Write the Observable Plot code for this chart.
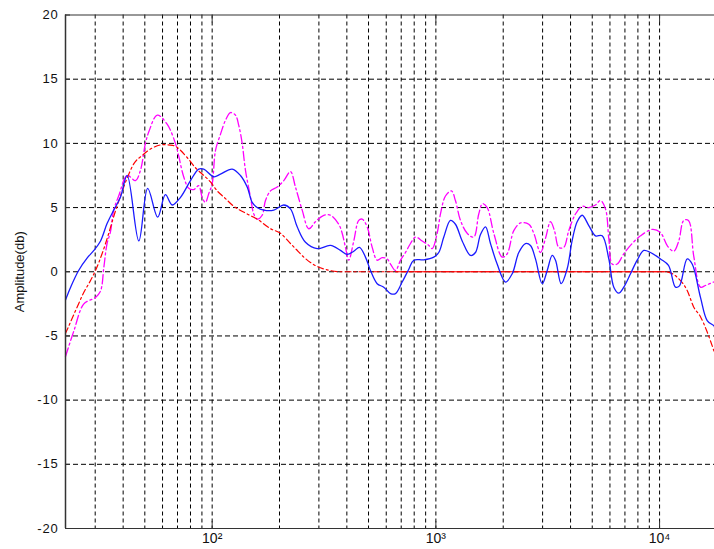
<!DOCTYPE html>
<html>
<head>
<meta charset="utf-8">
<script src="https://cdn.jsdelivr.net/npm/d3@7"></script>
<script src="https://cdn.jsdelivr.net/npm/@observablehq/plot@0.6"></script>
<style>
  html, body { margin: 0; padding: 0; background: #fff; }
</style>
</head>
<body>
<div id="chart"></div>
<script>
// ---- axes ----
const xDomain = [22.1, 17600];
const yDomain = [-20, 20];
const yTicks = [-20, -15, -10, -5, 0, 5, 10, 15, 20];
const gridY = [-15, -10, -5, 0, 5, 10, 15];
const gridX = [30, 40, 50, 60, 70, 80, 90, 100, 200, 300, 400, 500, 600, 700, 800, 900,
               1000, 2000, 3000, 4000, 5000, 6000, 7000, 8000, 9000, 10000];
const xMajor = [100, 1000, 10000];
const xTickLabels = ["10²", "10³", "10⁴"];
const yLabel = "Amplitude(db)";

// ---- blue (solid) ----
const blueFreq = [22.1, 23.3, 25.3, 27.7, 29.6, 31.7, 33.9, 36.3, 38.9, 41.7, 47.0, 51.5, 57.1, 61.8, 66.3, 72.2,
  80.0, 87.1, 91.7, 101.7, 108.9, 122.9, 133.8, 143.4, 151, 158.9, 170.1, 188.6, 209, 223.9, 239.9, 261.3,
  294.7, 337.9, 374.6, 401.3, 429.6, 455.5, 484.5, 510.1, 546.6, 584.9, 626.9, 659.9, 707.1, 756.8, 796.7,
  883.1, 978.6, 1030, 1085, 1162, 1223, 1311, 1428, 1503, 1583, 1667, 1754, 1879, 2047, 2194, 2348, 2515,
  2648, 2788, 2988, 3146, 3311, 3426, 3632, 3864, 4067, 4281, 4508, 4826, 5170, 5540, 5929, 6243, 6571,
  6918, 7413, 7942, 8501, 9106, 10093, 10960, 11779, 12274, 13287, 13987, 15236, 16325, 17475, 17600];
const blueDb = [-2.2, -1.2, 0.1, 1.1, 1.66, 2.4, 3.75, 4.8, 5.8, 7.5, 2.4, 6.5, 4.25, 6.0, 5.2, 5.8,
  7.1, 8.0, 8.0, 7.4, 7.6, 8.0, 7.5, 6.6, 5.4, 5.0, 4.8, 4.8, 5.2, 4.9, 3.5, 2.3,
  1.8, 2.05, 1.66, 1.35, 1.6, 1.9, 1.14, 0.1, -0.93, -1.2, -1.7, -1.7, -0.8, 0.2, 0.9,
  0.93, 1.14, 1.5, 2.7, 4.0, 3.7, 2.4, 1.27, 1.5, 2.9, 3.5, 2.2, 0.6, -0.8, -0.16, 1.5, 2.2,
  2.05, 1.0, -0.93, 0.1, 1.27, 0.9, -0.93, 0.23, 2.44, 3.9, 4.4, 3.6, 2.8, 2.8, 1.0, -1.2, -1.67,
  -1.2, -0.16, 0.9, 1.66, 1.5, 1.0, 0.5, -1.2, -1.1, 1.0, 0.6, -2.0, -3.8, -4.2, -4.3];

// ---- magenta (dash-dot) ----
const magFreq = [22.1, 24.1, 26.7, 30.1, 31.7, 32.8, 33.9, 35.1, 36.3, 38.2, 41.7, 45.4, 47.8, 50.3, 52.1, 56.8,
  62.9, 68.5, 70.9, 74.6, 78.6, 82.7, 87.1, 90.2, 93.3, 96.6, 100, 103.5, 108.9, 114.7, 120.7, 127.1,
  131.5, 136.2, 140.9, 148.4, 153.5, 158.9, 167.3, 173.1, 182.3, 195.3, 209, 223.9, 235.7, 252.6, 270.3,
  289.6, 315.4, 337.9, 368.1, 381.2, 394.4, 407.9, 429.6, 452.1, 468.2, 493.0, 519.2, 546.6, 575.4, 605.8,
  626.9, 659.9, 694.9, 731.4, 770.1, 810.7, 868.6, 929.6, 962.8, 1013.5, 1048.6, 1104, 1174, 1223, 1288,
  1380, 1477, 1555, 1616, 1696, 1815, 1979, 2083, 2230, 2389, 2602, 2740, 2935, 3090, 3253, 3390, 3544,
  3731, 3927, 4208, 4508, 4826, 5170, 5442, 5731, 5929, 6140, 6464, 6918, 7543, 8215, 9297, 10093, 10851,
  11574, 12185, 12830, 13465, 14220, 15236, 16040, 17475, 17600];
const magDb = [-6.6, -4.6, -2.5, -2.0, -1.5, 0.36, 2.2, 3.1, 4.8, 5.9, 7.5, 7.1, 7.9, 10.0, 10.9, 12.2,
  11.5, 10.0, 9.0, 7.4, 6.5, 6.4, 6.7, 5.8, 5.4, 6.1, 6.85, 9.45, 10.7, 11.8, 12.4, 12.2,
  11.4, 10.0, 7.9, 5.8, 4.5, 4.1, 4.4, 5.55, 6.3, 6.6, 7.1, 7.8, 6.6, 4.8, 3.35,
  3.9, 4.4, 4.4, 3.7, 3.0, 1.9, 0.9, 2.4, 4.0, 4.1, 3.5, 1.9, 0.9, 1.1, 1.0,
  0.6, 0.1, 0.9, 1.5, 2.2, 2.7, 2.4, 2.05, 1.8, 3.0, 4.5, 5.9, 6.3, 5.55, 4.0,
  3.0, 2.7, 4.5, 5.3, 5.0, 3.0, 1.14, 1.4, 3.2, 3.8, 3.7, 3.0, 1.5, 2.6, 3.9, 3.2, 1.9,
  1.9, 3.2, 4.5, 5.1, 5.0, 5.2, 5.55, 4.9, 2.6, 0.6, 0.6, 1.4, 2.2, 2.8, 3.3, 3.05, 2.0,
  1.6, 2.4, 4.0, 4.0, 1.2, -1.2, -1.07, -0.8, -0.8];

// ---- red target (dash-dot, flat part solid) ----
const redFreq = [22.1, 23.3, 24.9, 26.7, 28.6, 30.1, 32.2, 34.5, 36.3, 38.9, 41.7, 44.6, 48.7, 54.1, 60.6, 66.5,
  77.3, 84.2, 91.7, 98.3, 105.3, 114.7, 122.9, 143.4, 158.9, 182.3, 202, 223.9, 235.7, 256.8, 294.7, 326.7,
  374.6, 660, 10600, 12185, 13287, 14220, 15236, 16325, 17600];
const redDb = [-4.8, -3.9, -2.76, -1.6, -0.68, 0.1, 1.4, 3.0, 4.3, 5.9, 7.3, 8.4, 9.06, 9.65, 9.9, 9.85,
  8.9, 8.1, 7.5, 7.0, 6.3, 5.7, 5.2, 4.5, 4.1, 3.35, 3.0, 2.2, 1.8, 1.14, 0.41, 0.15,
  0, 0, 0, -0.55, -1.46, -2.76, -3.5, -4.7, -6.3];
const redSolidRange = [640, 10700];

const toRows = (fs, ds) => fs.map((f, i) => ({f, db: ds[i]}));
const blue = toRows(blueFreq, blueDb);
const magenta = toRows(magFreq, magDb);
const red = toRows(redFreq, redDb);
const redSolid = red.filter(d => d.f >= redSolidRange[0] && d.f <= redSolidRange[1]);

const chart = Plot.plot({
  width: 714,
  height: 549,
  marginLeft: 65,
  marginRight: 0,
  marginTop: 14.5,
  marginBottom: 21,
  x: {type: "log", domain: xDomain},
  y: {domain: yDomain},
  style: {fontFamily: "'Liberation Sans', Arial, sans-serif", fontSize: "12px", background: "#fff", color: "#111"},
  marks: [
    Plot.ruleX(gridX, {stroke: "#000", strokeWidth: 1, strokeDasharray: "4,3"}),
    Plot.ruleY(gridY, {stroke: "#000", strokeWidth: 1, strokeDasharray: "5,3"}),
    Plot.line(magenta, {x: "f", y: "db", stroke: "#ff00ff", strokeWidth: 1.3, strokeDasharray: "9,3,2,3", curve: "catmull-rom"}),
    Plot.line(red, {x: "f", y: "db", stroke: "#ff0000", strokeWidth: 1.2, strokeDasharray: "6,3,2,3", curve: "monotone-x"}),
    Plot.line(redSolid, {x: "f", y: "db", stroke: "#ff0000", strokeWidth: 1.2}),
    Plot.line(blue, {x: "f", y: "db", stroke: "#1a1aff", strokeWidth: 1.3, curve: "catmull-rom"}),
    // frame (box, right side cropped)
    Plot.ruleY(yDomain, {stroke: "#333", strokeWidth: 1.2}),
    Plot.ruleX([xDomain[0]], {stroke: "#333", strokeWidth: 1.5}),
    // inner ticks
    Plot.axisY({ticks: yTicks, tickSize: 5, dx: 5, fill: "none", label: null, stroke: "#333"}),
    Plot.axisX({anchor: "bottom", ticks: xMajor, tickSize: 7, dy: -7, fill: "none", label: null, stroke: "#333"}),
    Plot.axisX({anchor: "top", ticks: xMajor, tickSize: 7, dy: 7, fill: "none", label: null, stroke: "#333"}),
    // labels
    Plot.axisY({ticks: yTicks, tickSize: 0, tickPadding: 7, fontSize: 13, label: yLabel,
      tickFormat: d => String(d),
      labelAnchor: "center", labelOffset: 51, labelArrow: "none", fill: "#111"}),
    Plot.axisX({anchor: "bottom", ticks: xMajor, tickSize: 0, tickPadding: 5, fontSize: 14,
      tickFormat: d => xTickLabels[xMajor.indexOf(d)], label: null, fill: "#111"})
  ]
});
d3.select(chart).selectAll("g[aria-label='y-axis tick label'] text").attr("letter-spacing", "0.8px");
document.getElementById("chart").append(chart);
</script>
</body>
</html>
